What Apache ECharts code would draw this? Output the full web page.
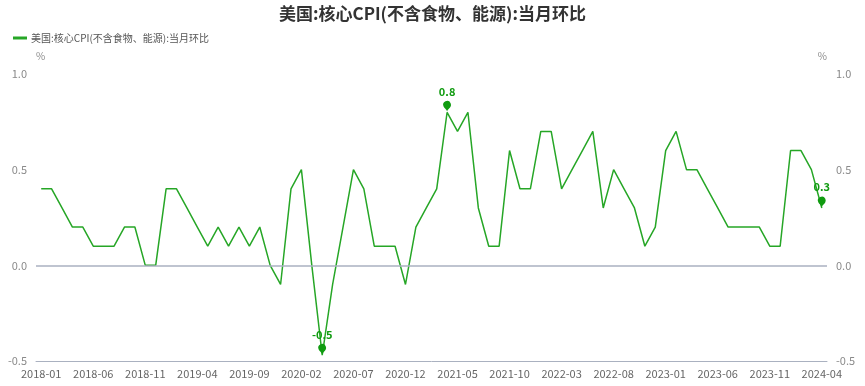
<!DOCTYPE html>
<html>
<head>
<meta charset="utf-8">
<script src="https://cdn.jsdelivr.net/npm/echarts@6/dist/echarts.min.js"></script>
<style>
html,body{margin:0;padding:0;background:#fff;}
#chart{width:865px;height:386px;}
</style>
</head>
<body>
<div id="chart"></div>
<script>
const titleText = '美国:核心CPI(不含食物、能源):当月环比';
const seriesName = '美国:核心CPI(不含食物、能源):当月环比';
const unitName = '%';
const categories = [
  '2018-01','2018-02','2018-03','2018-04','2018-05','2018-06','2018-07','2018-08','2018-09','2018-10','2018-11','2018-12',
  '2019-01','2019-02','2019-03','2019-04','2019-05','2019-06','2019-07','2019-08','2019-09','2019-10','2019-11','2019-12',
  '2020-01','2020-02','2020-03','2020-04','2020-05','2020-06','2020-07','2020-08','2020-09','2020-10','2020-11','2020-12',
  '2021-01','2021-02','2021-03','2021-04','2021-05','2021-06','2021-07','2021-08','2021-09','2021-10','2021-11','2021-12',
  '2022-01','2022-02','2022-03','2022-04','2022-05','2022-06','2022-07','2022-08','2022-09','2022-10','2022-11','2022-12',
  '2023-01','2023-02','2023-03','2023-04','2023-05','2023-06','2023-07','2023-08','2023-09','2023-10','2023-11','2023-12',
  '2024-01','2024-02','2024-03','2024-04'
];
const values = [
  0.4,0.4,0.3,0.2,0.2,0.1,0.1,0.1,0.2,0.2,0.0,0.0,
  0.4,0.4,0.3,0.2,0.1,0.2,0.1,0.2,0.1,0.2,0.0,-0.1,
  0.4,0.5,0.0,-0.47,-0.1,0.2,0.5,0.4,0.1,0.1,0.1,-0.1,
  0.2,0.3,0.4,0.8,0.7,0.8,0.3,0.1,0.1,0.6,0.4,0.4,
  0.7,0.7,0.4,0.5,0.6,0.7,0.3,0.5,0.4,0.3,0.1,0.2,
  0.6,0.7,0.5,0.5,0.4,0.3,0.2,0.2,0.2,0.2,0.1,0.1,
  0.6,0.6,0.5,0.3
];
const yTicks = { min: -0.5, max: 1.0, interval: 0.5 };

const font = '"Noto Sans CJK SC", "Noto Sans", sans-serif';
const lineColor = '#26a626';
const markColor = '#109b10';
const axisLabelColor = '#8a8a8a';
const zeroLineColor = '#aab1c0';

const chart = echarts.init(document.getElementById('chart'), null, {renderer: 'canvas'});
const yAxisCommon = {
  type: 'value',
  min: yTicks.min, max: yTicks.max, interval: yTicks.interval,
  name: unitName,
  nameGap: 13,
  nameTextStyle: {color: axisLabelColor, fontSize: 10, fontFamily: font},
  axisLine: {show: false},
  axisTick: {show: false},
  splitLine: {show: false},
  axisLabel: {color: axisLabelColor, fontSize: 11, fontFamily: font, margin: 9,
    formatter: v => v.toFixed(1)}
};
const option = {
  backgroundColor: '#fff',
  animation: false,
  textStyle: {fontFamily: font},
  title: {
    text: titleText, left: 'center', top: 5, padding: 0,
    textStyle: {fontSize: 17, fontWeight: 'bold', color: '#333', fontFamily: font}
  },
  legend: {
    left: 13, top: 33, padding: 0,
    itemWidth: 14, itemHeight: 3, itemGap: 10,
    icon: 'rect',
    textStyle: {fontSize: 10, color: '#555', fontFamily: font, padding: [0,0,0,-1]},
    data: [seriesName]
  },
  grid: {left: 36, right: 38, top: 74, bottom: 25, containLabel: false},
  xAxis: {
    type: 'category',
    data: categories,
    boundaryGap: true,
    axisLine: {onZero: false, lineStyle: {color: zeroLineColor, width: 1}},
    axisTick: {show: false},
    axisLabel: {color: '#666', fontSize: 11, fontFamily: font, interval: 4, margin: 7}
  },
  yAxis: [
    Object.assign({}, yAxisCommon, {position: 'left', nameTextStyle: Object.assign({}, yAxisCommon.nameTextStyle, {align: 'left'})}),
    Object.assign({}, yAxisCommon, {position: 'right', nameTextStyle: Object.assign({}, yAxisCommon.nameTextStyle, {align: 'right'})})
  ],
  series: [{
    name: seriesName,
    type: 'line',
    data: values,
    yAxisIndex: 0,
    showSymbol: false,
    symbol: 'none',
    itemStyle: {color: lineColor},
    lineStyle: {color: lineColor, width: 1.5},
    markLine: {
      silent: true,
      symbol: 'none',
      label: {show: false},
      lineStyle: {color: zeroLineColor, type: 'solid', width: 1.5},
      data: [{yAxis: 0}]
    },
    markPoint: {
      symbol: 'pin',
      symbolSize: 13,
      itemStyle: {color: markColor},
      label: {show: true, position: 'top', distance: 4, color: markColor, fontSize: 11, fontWeight: 'bold', fontFamily: font,
        formatter: p => Number(p.value).toFixed(1)},
      data: [
        {type: 'max'},
        {type: 'min'},
        {coord: [categories[categories.length - 1], values[values.length - 1]], value: values[values.length - 1]}
      ]
    }
  }]
};
chart.setOption(option);
</script>
</body>
</html>
